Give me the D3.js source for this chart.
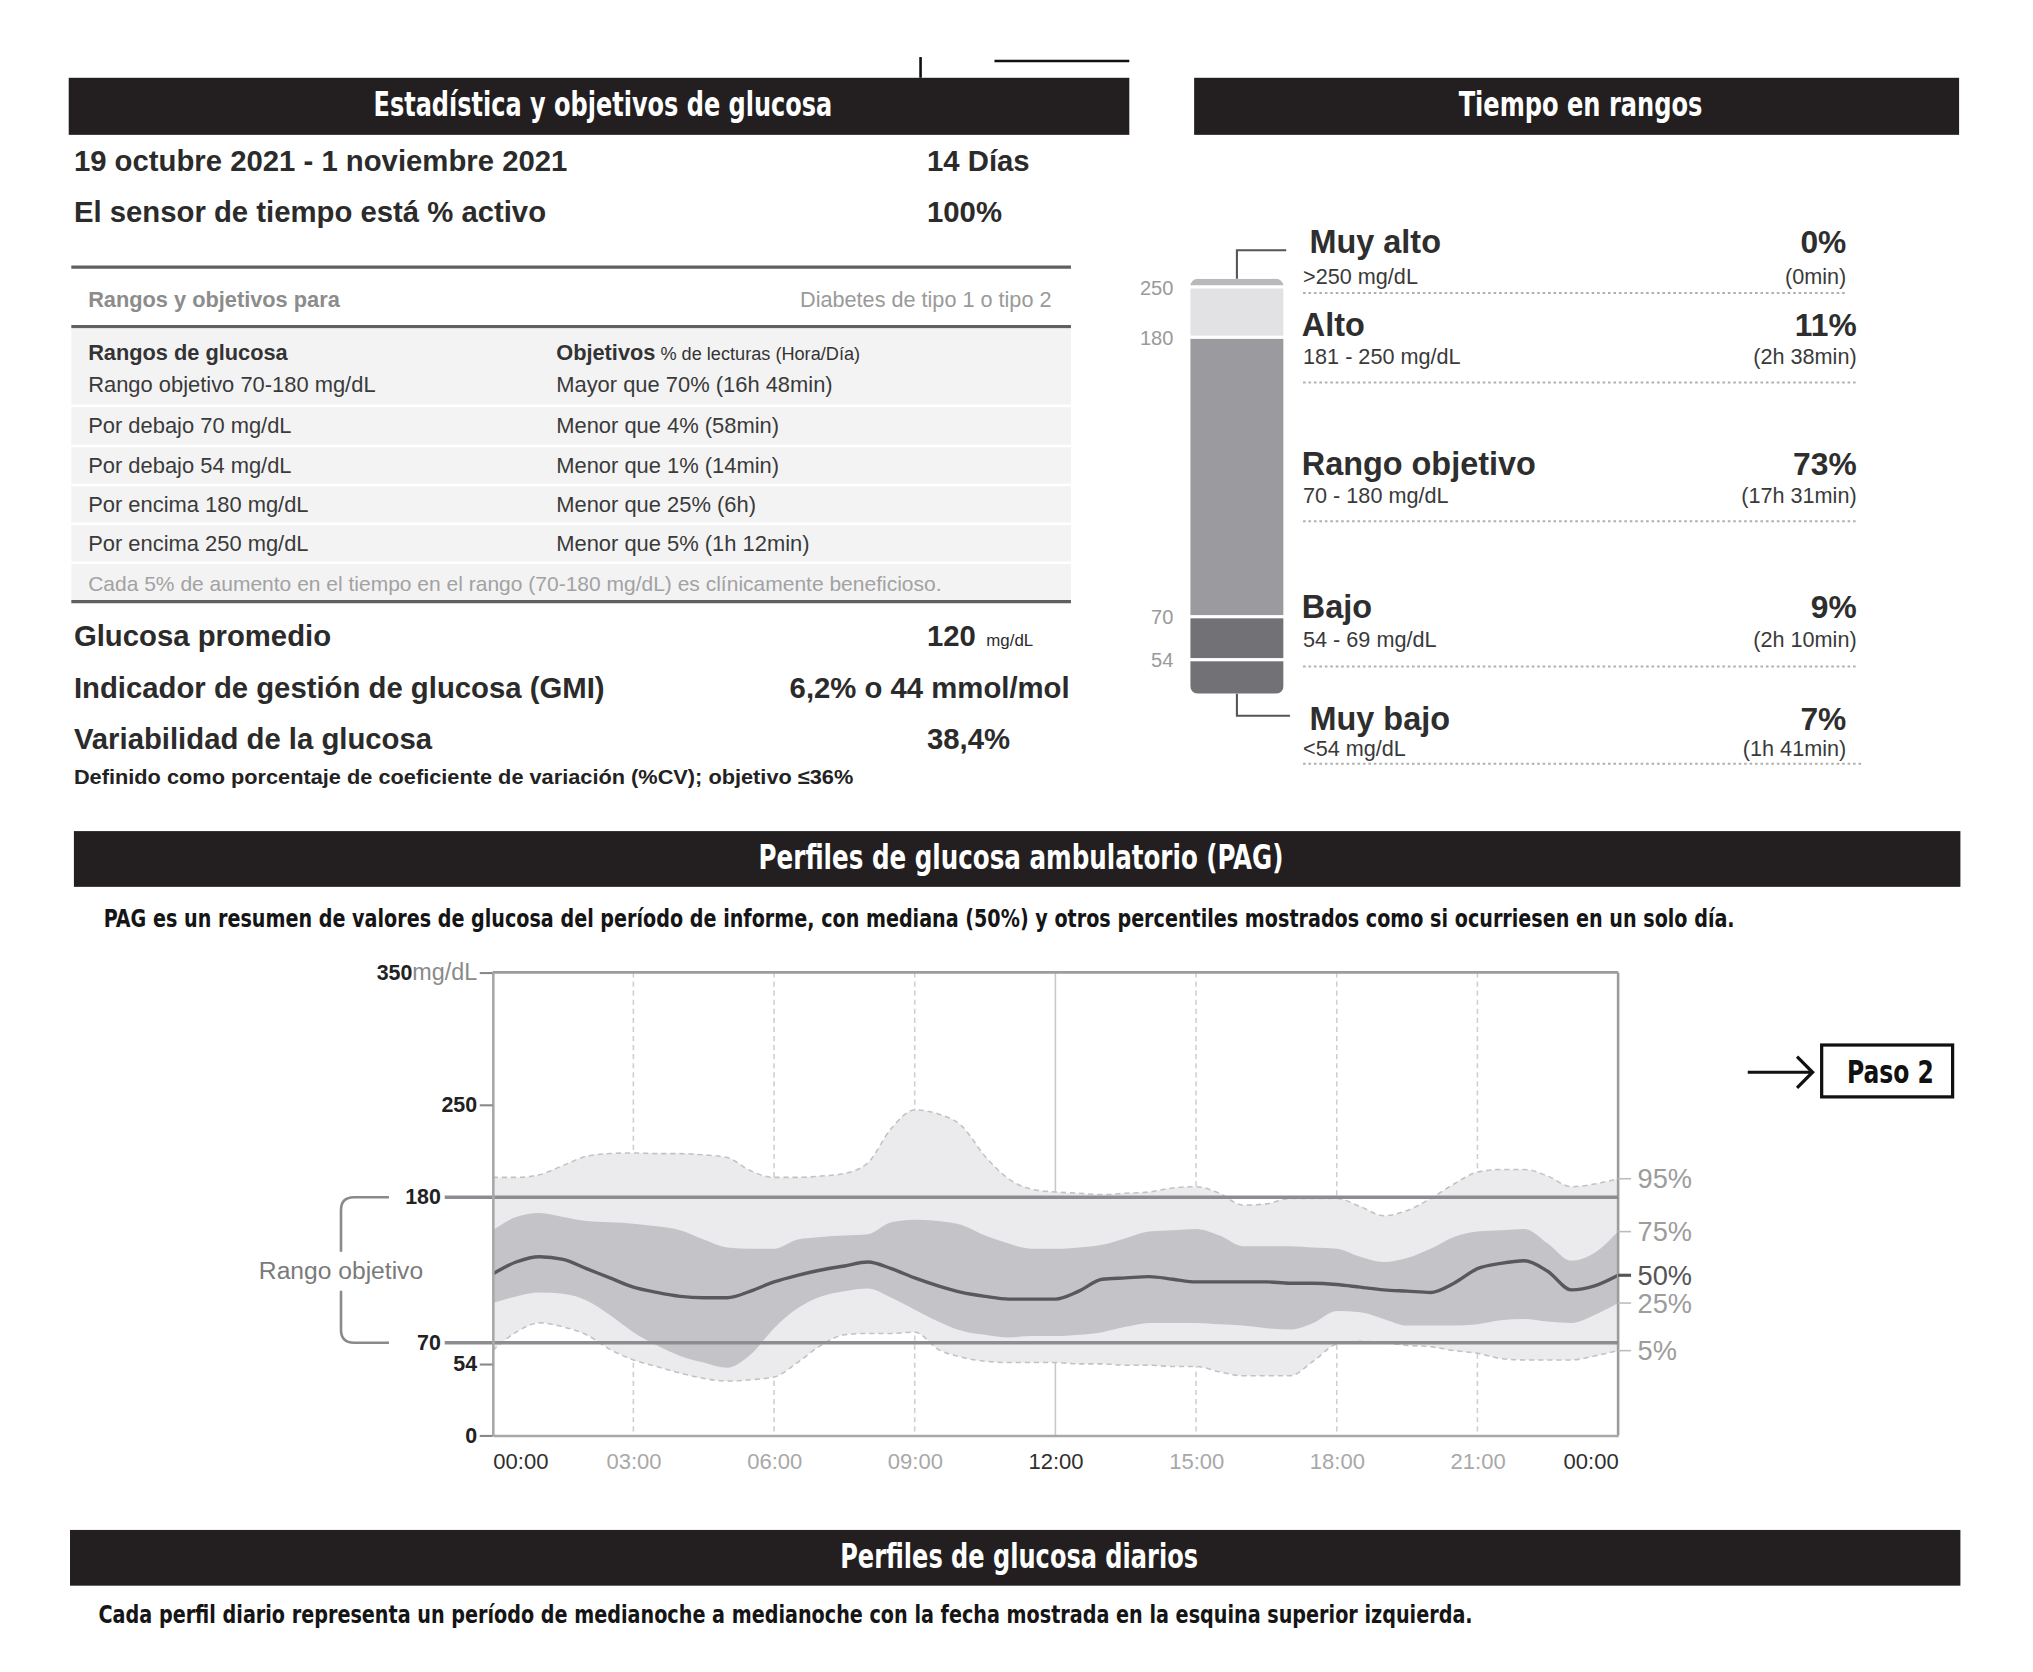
<!DOCTYPE html>
<html><head><meta charset="utf-8">
<script src="https://cdn.jsdelivr.net/npm/d3@7/dist/d3.min.js"></script>
<style>html,body{margin:0;padding:0;background:#fff;} svg{display:block;}</style>
</head><body>
<svg id="chart" width="2033" height="1672"></svg>
<script>
// ================= DATA =================
const sectionTitles = ["Estadística y objetivos de glucosa", "Tiempo en rangos", "Perfiles de glucosa ambulatorio (PAG)", "Perfiles de glucosa diarios"];
const sectionNotes = [
  "PAG es un resumen de valores de glucosa del período de informe, con mediana (50%) y otros percentiles mostrados como si ocurriesen en un solo día.",
  "Cada perfil diario representa un período de medianoche a medianoche con la fecha mostrada en la esquina superior izquierda."
];
const reportLabels = ["19 octubre 2021 - 1 noviembre 2021", "El sensor de tiempo está % activo"];
const reportValues = ["14 Días", "100%"];
const targetHeader = ["Rangos y objetivos para", "Diabetes de tipo 1 o tipo 2"];
const targetColHeads = ["Rangos de glucosa", "Objetivos", " % de lecturas (Hora/Día)"];
const targetRanges = ["Rango objetivo 70-180 mg/dL", "Por debajo 70 mg/dL", "Por debajo 54 mg/dL", "Por encima 180 mg/dL", "Por encima 250 mg/dL"];
const targetGoals = ["Mayor que 70% (16h 48min)", "Menor que 4% (58min)", "Menor que 1% (14min)", "Menor que 25% (6h)", "Menor que 5% (1h 12min)"];
const targetNote = "Cada 5% de aumento en el tiempo en el rango (70-180 mg/dL) es clínicamente beneficioso.";
const metricLabels = ["Glucosa promedio", "Indicador de gestión de glucosa (GMI)", "Variabilidad de la glucosa"];
const metricValues = ["120", "6,2% o 44 mmol/mol", "38,4%"];
const metricUnits = ["mg/dL", "", ""];
const cvNote = "Definido como porcentaje de coeficiente de variación (%CV); objetivo ≤36%";

const tirNames = ["Muy alto", "Alto", "Rango objetivo", "Bajo", "Muy bajo"];
const tirRanges = [">250 mg/dL", "181 - 250 mg/dL", "70 - 180 mg/dL", "54 - 69 mg/dL", "<54 mg/dL"];
const tirPercent = [0, 11, 73, 9, 7];
const tirDurations = ["(0min)", "(2h 38min)", "(17h 31min)", "(2h 10min)", "(1h 41min)"];
const tirThresholds = [250, 180, 70, 54];

const agpHours = [0,0.5,1,1.5,2,2.5,3,3.5,4,4.5,5,5.5,6,6.5,7,7.5,8,8.5,9,9.5,10,10.5,11,11.5,12,12.5,13,13.5,14,14.5,15,15.5,16,16.5,17,17.5,18,18.5,19,19.5,20,20.5,21,21.5,22,22.5,23,23.5,24];
const p95 = [195,195,197,204,211,213,213.5,213,213,212,210,200,195,195,196,198,206,232,246,243,234,211,194,186,184,183,182,183,184,187,188,183,174,175,179,179,179,173,166,170,179,190,199,201,201,196,188,190,194];
const p75 = [155,165,168,165,162,161,160,158,155,148,142,141,141,148,150,151,152,161,163,162,159,151,145,141,141,142,144,149,154,155,156,151,143,143,143,142,141,135,131,134,141,150,154,155,156,145,132,138,154];
const p50 = [122,131,135,133,126,119,112,108,105,104,104,109,116,121,125,128,131,126,119,113,108,105,103,103,103,109,118,119,120,118,116,116,116,116,115,115,114,112,110,109,108,115,126,130,132,124,110,113,121];
const p25 = [100,105,108,107,102,91,78,68,60,55,51,61,81,96,105,109,111,104,95,86,79,76,74,75,75,76,78,82,85,85,85,84,83,81,80,85,94,93,88,83,83,83,84,87,88,86,85,91,100];
const p5  = [64,78,85,82,76,65,57,52,47,43,41,42,44,55,68,76,77,77,78,65,59,56,55,55,55,54,54,53,53,52,52,48,45,45,45,56,69,71,70,68,67,64,62,58,57,57,57,60,64];
const percentileLabels = ["95%", "75%", "50%", "25%", "5%"];
const yTickValues = [0, 54, 250, 350];
const targetLines = [180, 70];
const targetLabel = "Rango objetivo";
const yUnit = "mg/dL";
const xTickValues = [0, 3, 6, 9, 12, 15, 18, 21, 24];
const xTickLabels = ["00:00", "03:00", "06:00", "09:00", "12:00", "15:00", "18:00", "21:00", "00:00"];
const stepLabel = "Paso 2";

// ================= LAYOUT / STYLE =================
const K = 2033 / 1568;
const HF = "'DejaVu Sans Condensed','Liberation Sans Narrow','Open Sans',sans-serif";
const BF = "'Liberation Sans',Arial,Helvetica,sans-serif";
const INK = "#2b2b2b";
const svg = d3.select("#chart");
const g = svg.append("g").attr("transform", `scale(${K})`);

function txt(parent, x, y, s, o = {}) {
  const t = parent.append("text").attr("x", x).attr("y", y).text(s)
    .attr("font-family", o.family || BF).attr("font-size", o.size || 16)
    .attr("font-weight", o.weight || "normal").attr("fill", o.fill || INK)
    .attr("text-anchor", o.anchor || "start");
  return t;
}
// fit a text horizontally to a target width by a horizontal scale (condensed look)
function fitTxt(parent, x, y, s, target, o = {}) {
  const t = txt(parent, 0, 0, s, o);
  const w = t.node().getComputedTextLength() || target;
  t.attr("transform", `translate(${x},${y}) scale(${target / w},1)`);
  return t;
}
function hline(x1, x2, y, stroke, w, dash) {
  const l = g.append("line").attr("x1", x1).attr("x2", x2).attr("y1", y).attr("y2", y)
    .attr("stroke", stroke).attr("stroke-width", w);
  if (dash) l.attr("stroke-dasharray", dash);
  return l;
}

// crop artifacts at top
g.append("line").attr("x1", 710).attr("x2", 710).attr("y1", 44).attr("y2", 60).attr("stroke", "#111").attr("stroke-width", 2);
hline(767, 871, 47, "#111", 2);

// section headers
const headerBoxes = [[53, 871, 60, 104, 354], [921, 1511, 60, 104, 188], [57, 1512, 641, 684, 405], [54, 1512, 1180, 1223, 276]];
headerBoxes.forEach((b, i) => {
  g.append("rect").attr("x", b[0]).attr("y", b[2]).attr("width", b[1] - b[0]).attr("height", b[3] - b[2]).attr("fill", "#231f20");
  fitTxt(g, (b[0] + b[1]) / 2 + 3, b[2] + 29.5, sectionTitles[i], b[4], {family: HF, size: 26, weight: "bold", fill: "#fff", anchor: "middle"});
});
fitTxt(g, 80, 715, sectionNotes[0], 1258, {family: HF, size: 19.5, weight: "bold", fill: "#151515"});
fitTxt(g, 76, 1252, sectionNotes[1], 1060, {family: HF, size: 19.5, weight: "bold", fill: "#151515"});

// ---------- Stats section ----------
reportLabels.forEach((s, i) => {
  txt(g, 57, 132 + 39 * i, s, {size: 22.6, weight: "bold"});
  txt(g, 715, 132 + 39 * i, reportValues[i], {size: 22.6, weight: "bold"});
});
hline(55, 826, 206, "#606060", 2.5);
txt(g, 68, 237, targetHeader[0], {size: 16.8, weight: "bold", fill: "#8c8c8c"});
txt(g, 811, 237, targetHeader[1], {size: 16.7, fill: "#9a9a9a", anchor: "end"});
hline(55, 826, 252, "#606060", 2.5);
const rowBounds = [[253.5, 312], [314, 343], [345, 373], [375, 403], [405, 433], [435, 463]];
rowBounds.forEach(r => g.append("rect").attr("x", 55).attr("y", r[0]).attr("width", 771).attr("height", r[1] - r[0]).attr("fill", "#f3f3f4"));
txt(g, 68, 278, targetColHeads[0], {size: 16.8, weight: "bold", fill: "#333"});
const oh = txt(g, 429, 278, targetColHeads[1], {size: 16.8, weight: "bold", fill: "#333"});
oh.append("tspan").attr("font-weight", "normal").attr("font-size", 14).text(targetColHeads[2]);
const rowBase = [302, 334, 365, 395, 425];
targetRanges.forEach((s, i) => {
  txt(g, 68, rowBase[i], s, {size: 16.9, fill: "#3a3a3a"});
  txt(g, 429, rowBase[i], targetGoals[i], {size: 16.9, fill: "#3a3a3a"});
});
txt(g, 68, 456, targetNote, {size: 16.2, fill: "#a2a2a2"});
hline(55, 826, 464, "#606060", 2.5);

const metricBase = [498, 538, 578];
const metricX = [715, 825, 715];
const metricAnchor = ["start", "end", "start"];
metricLabels.forEach((s, i) => {
  txt(g, 57, metricBase[i], s, {size: 22.6, weight: "bold"});
  const v = txt(g, metricX[i], metricBase[i], metricValues[i], {size: 22.6, weight: "bold", anchor: metricAnchor[i]});
  if (metricUnits[i]) v.append("tspan").attr("font-weight", "normal").attr("font-size", 13).attr("dx", 8).text(metricUnits[i]);
});
fitTxt(g, 57, 605, cvNote, 601, {size: 16, weight: "bold", fill: "#222"});

// ---------- Time in ranges ----------
const barX = 918, barW = 72, barTop = 215, gap = 2.5;
const segH = d3.scaleLinear().domain([0, 100]).range([5, 290]);
const tirColors = ["#b9b9bd", "#e2e2e5", "#9b9b9f", "#727276", "#727276"];
let acc = barTop;
const segs = tirPercent.map((p, i) => { const s = {y: acc, h: segH(p), i}; acc += s.h + gap; return s; });
const barBottom = acc - gap;
const defs = svg.append("defs");
defs.append("clipPath").attr("id", "barclip").append("rect")
  .attr("x", barX).attr("y", barTop).attr("width", barW).attr("height", barBottom - barTop).attr("rx", 6);
const bar = g.append("g").attr("clip-path", "url(#barclip)");
bar.selectAll("rect").data(segs).join("rect")
  .attr("x", barX).attr("y", d => d.y).attr("width", barW).attr("height", d => d.h)
  .attr("fill", d => tirColors[d.i]);
tirThresholds.forEach((t, i) => {
  txt(g, 905, segs[i + 1].y - gap / 2 + 6, String(t), {size: 15.5, fill: "#9a9a9a", anchor: "end"});
});
const cx = barX + barW / 2;
g.append("path").attr("d", `M${cx},${barTop}V193H992`).attr("fill", "none").attr("stroke", "#555").attr("stroke-width", 1.6);
g.append("path").attr("d", `M${cx},${barBottom}V552H995`).attr("fill", "none").attr("stroke", "#555").attr("stroke-width", 1.6);
const tirTitleY = [195, 259, 366, 477, 563];
const tirSubY = [219, 281, 388, 499, 583];
const tirTitleX = [1010, 1004, 1004, 1004, 1010];
const tirSubX = [1005, 1005, 1005, 1005, 1005];
const tirRight = [1424, 1432, 1432, 1432, 1424];
const tirDotY = [226, 295, 402, 514, 589];
const tirDotX2 = [1424, 1432, 1432, 1432, 1436];
tirNames.forEach((n, i) => {
  txt(g, tirTitleX[i], tirTitleY[i], n, {size: 25, weight: "bold", fill: "#2e2e2e"});
  txt(g, tirRight[i], tirTitleY[i], tirPercent[i] + "%", {size: 24.5, weight: "bold", fill: "#2e2e2e", anchor: "end"});
  txt(g, tirSubX[i], tirSubY[i], tirRanges[i], {size: 16.7, fill: "#3a3a3a"});
  txt(g, tirRight[i], tirSubY[i], tirDurations[i], {size: 16.7, fill: "#3a3a3a", anchor: "end"});
  hline(1005, tirDotX2[i], tirDotY[i], "#b0b0b0", 1.6, "2,2.2");
});

// ---------- AGP chart ----------
const x = d3.scaleLinear().domain([0, 24]).range([380, 1248]);
const y = d3.scaleLinear().domain([0, 350]).range([1107, 750]);
const agp = agpHours.map((h, i) => ({h, p5: p5[i], p25: p25[i], p50: p50[i], p75: p75[i], p95: p95[i]}));
const curve = d3.curveMonotoneX;

// grid
const grid = g.append("g");
xTickValues.slice(1, -1).forEach(h => {
  grid.append("line").attr("x1", x(h)).attr("x2", x(h)).attr("y1", y(350)).attr("y2", y(0))
    .attr("stroke", h === 12 ? "#c8c8c8" : "#cfcfcf").attr("stroke-width", 1.2)
    .attr("stroke-dasharray", h === 12 ? null : "4,3");
});

g.append("path").datum(agp).attr("fill", "#ebebed")
  .attr("d", d3.area().x(d => x(d.h)).y0(d => y(d.p5)).y1(d => y(d.p95)).curve(curve));
g.append("path").datum(agp).attr("fill", "#c4c4c8")
  .attr("d", d3.area().x(d => x(d.h)).y0(d => y(d.p25)).y1(d => y(d.p75)).curve(curve));
["p5", "p95"].forEach(k => {
  g.append("path").datum(agp).attr("fill", "none").attr("stroke", "#c2c2c4").attr("stroke-width", 1.2)
    .attr("stroke-dasharray", "4,3").attr("d", d3.line().x(d => x(d.h)).y(d => y(d[k])).curve(curve));
});
g.append("path").datum(agp).attr("fill", "none").attr("stroke", "#59595d").attr("stroke-width", 2.6)
  .attr("d", d3.line().x(d => x(d.h)).y(d => y(d.p50)).curve(curve));

// frame
g.append("line").attr("x1", x(0)).attr("x2", x(24)).attr("y1", y(350)).attr("y2", y(350)).attr("stroke", "#9c9c9c").attr("stroke-width", 2);
g.append("line").attr("x1", x(24)).attr("x2", x(24)).attr("y1", y(350)).attr("y2", y(0)).attr("stroke", "#9c9c9c").attr("stroke-width", 2);

// target lines
targetLines.forEach(v => {
  g.append("line").attr("x1", 343).attr("x2", x(24)).attr("y1", y(v)).attr("y2", y(v)).attr("stroke", "#8d8d91").attr("stroke-width", 2.6);
  txt(g, 340, y(v) + 5.5, String(v), {size: 16.5, weight: "bold", fill: "#222", anchor: "end"});
});

// y axis
const yAxis = g.append("g").attr("transform", `translate(${x(0)},0)`)
  .call(d3.axisLeft(y).tickValues(yTickValues).tickSize(10).tickSizeOuter(0).tickFormat(d => d));
yAxis.select(".domain").attr("stroke", "#a8a8a8").attr("stroke-width", 2);
yAxis.selectAll(".tick line").attr("stroke", "#888").attr("stroke-width", 1.6);
yAxis.selectAll(".tick text").attr("font-family", BF).attr("font-size", 16.5).attr("font-weight", "bold").attr("fill", "#222").attr("x", -12);
yAxis.selectAll(".tick text").filter(d => d === 350).each(function () {
  const t = d3.select(this); t.text(null);
  t.append("tspan").text("350");
  t.append("tspan").attr("font-weight", "normal").attr("font-size", 18).attr("fill", "#8a8a8a").text(yUnit);
});

// x axis
const xAxis = g.append("g").attr("transform", `translate(0,${y(0)})`)
  .call(d3.axisBottom(x).tickValues(xTickValues).tickSize(0).tickSizeOuter(0).tickPadding(14).tickFormat((d, i) => xTickLabels[i]));
xAxis.select(".domain").attr("stroke", "#a8a8a8").attr("stroke-width", 2);
xAxis.selectAll(".tick text").attr("font-family", BF).attr("font-size", 17)
  .attr("fill", d => (d % 12 === 0) ? "#2e2e2e" : "#a8a8a8")
  .attr("text-anchor", (d, i) => i === 0 ? "start" : (i === xTickValues.length - 1 ? "end" : "middle"));

// target bracket
g.append("path").attr("fill", "none").attr("stroke", "#8a8a8a").attr("stroke-width", 2)
  .attr("d", `M300,${y(180)}H273Q263,${y(180)} 263,${y(180) + 10}V${y(125) - 14}M263,${y(125) + 16}V${y(70) - 10}Q263,${y(70)} 273,${y(70)}H300`);
txt(g, 263, y(125) + 7, targetLabel, {size: 19, fill: "#7a7a7a", anchor: "middle"});

// percentile labels
const last = agp[agp.length - 1];
const pKeys = ["p95", "p75", "p50", "p25", "p5"];
pKeys.forEach((k, i) => {
  const yy = y(last[k]);
  const dark = k === "p50";
  g.append("line").attr("x1", x(24)).attr("x2", x(24) + 10).attr("y1", yy).attr("y2", yy)
    .attr("stroke", dark ? "#555" : "#bbb").attr("stroke-width", dark ? 2.4 : 1.2);
  txt(g, x(24) + 15, yy + 7.5, percentileLabels[i], {size: 21, fill: dark ? "#555" : "#9c9c9c"});
});

// Paso 2 box
g.append("rect").attr("x", 1405).attr("y", 806).attr("width", 101).attr("height", 40).attr("fill", "none").attr("stroke", "#111").attr("stroke-width", 2.5);
fitTxt(g, 1458, 835, stepLabel, 67, {family: HF, size: 24, weight: "bold", fill: "#111", anchor: "middle"});
g.append("path").attr("d", "M1348,827H1398M1386,815L1398,827L1386,839").attr("fill", "none").attr("stroke", "#111").attr("stroke-width", 2.5);
</script>
</body></html>
